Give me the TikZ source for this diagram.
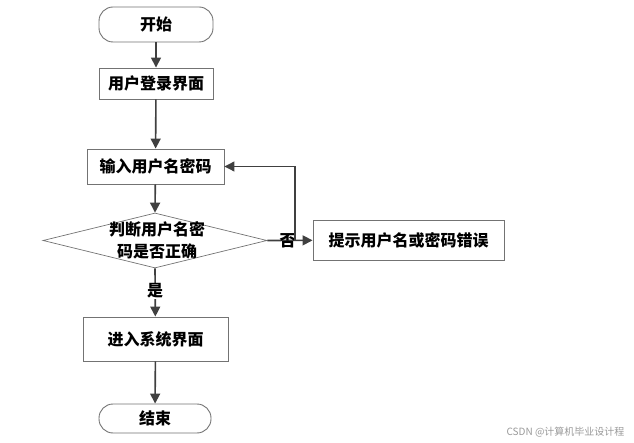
\documentclass[tikz,border=0pt]{standalone}
\usepackage{fontspec}
\setmainfont{Noto Sans CJK SC}
\usetikzlibrary{arrows.meta,shapes.geometric}
\tikzset{
  box/.style={draw=black!55, line width=0.9pt, fill=white, inner sep=0pt, font=\fontsize{16}{19}\selectfont\bfseries},
  term/.style={box, rounded corners=14pt},
  dia/.style={draw=black!55, line width=0.7pt, shape=diamond, inner sep=0pt},
  conn/.style={draw=black!75, line width=1.6pt, -{Triangle[length=10pt,width=10pt]}},
  thin/.style={draw=black!75, line width=1.1pt},
  lab/.style={font=\fontsize{16}{19}\selectfont\bfseries, inner sep=1pt}
}
\begin{document}
\begin{tikzpicture}[x=1pt,y=-1pt]
\useasboundingbox (0,0) rectangle (634,443);
\node[term, minimum width=114pt, minimum height=35pt] (start) at (156,24.5) {开始};
\node[box, minimum width=114pt, minimum height=31pt] (login) at (156,83.5) {用户登录界面};
\node[box, minimum width=137pt, minimum height=35pt] (input) at (155.5,166.5) {输入用户名密码};
\node[dia, minimum width=224pt, minimum height=55pt] (judge) at (155,240.5) {};
\node[lab, align=center, font=\fontsize{16}{22}\selectfont\bfseries] (jt) at (157,240.5) {判断用户名密\\码是否正确};
\node[box, minimum width=191pt, minimum height=40pt] (err) at (408.5,240) {提示用户名或密码错误};
\node[box, minimum width=145pt, minimum height=44pt] (enter) at (155.5,339) {进入系统界面};
\node[term, minimum width=112pt, minimum height=29pt] (end) at (155,418.5) {结束};

\draw[conn] (start) -- (login);
\draw[conn] (login) -- (input);
\draw[conn] (input) -- (judge.north);
\draw[conn] (judge.south) -- node[lab, fill=white, pos=0.47] (yes) {是} (enter);
\draw[conn] (judge.east) -- node[lab, pos=0.45] (no) {否} (err);
\coordinate (fb) at (295,240);
\draw[thin, -{Triangle[length=10pt,width=10pt]}] (fb) |- (input.east);
\draw[conn] (enter) -- (end);

\node[font=\fontsize{10}{12}\selectfont, text=black!40, anchor=east] (wm) at (628,432) {CSDN @计算机毕业设计程};
\end{tikzpicture}
\end{document}
